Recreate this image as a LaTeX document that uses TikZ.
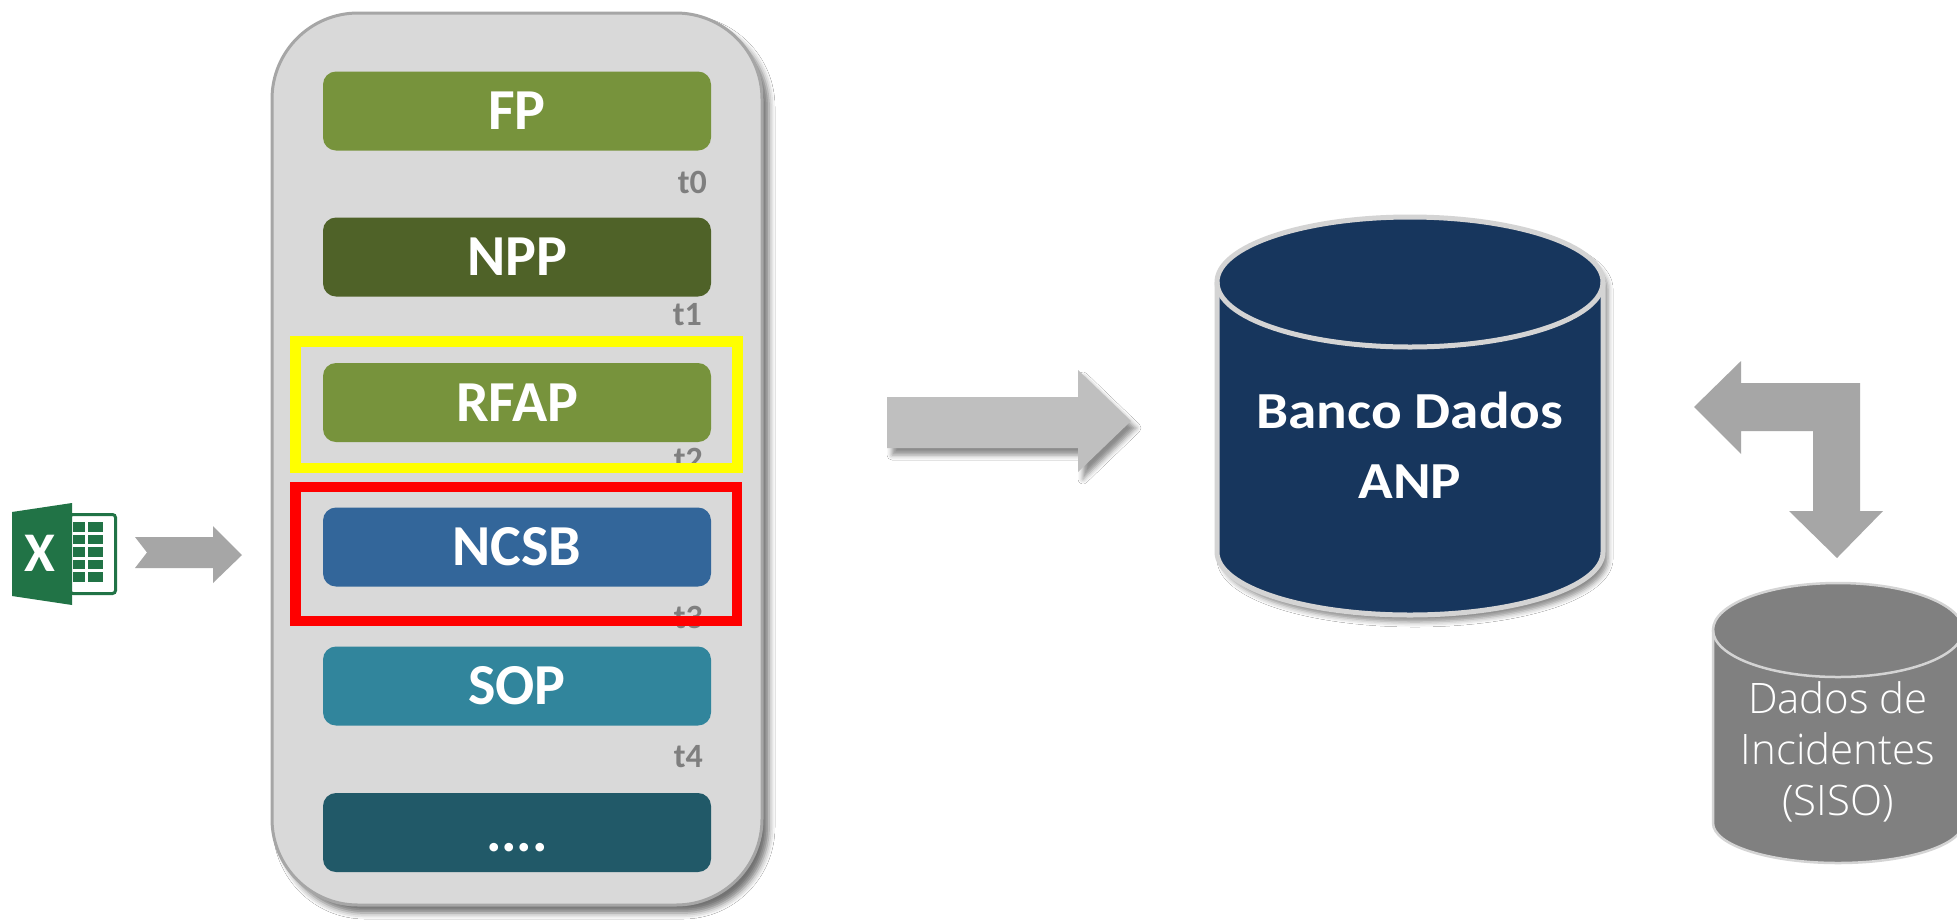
\documentclass[tikz,border=0pt]{standalone}
\usepackage{fontspec}
\setmainfont{Carlito}
\newfontfamily\lightfont{Open Sans Light}
\newfontfamily\widefont{Carlito}[FakeStretch=1.1]
\usetikzlibrary{shadows.blur}
\definecolor{panelgray}{HTML}{D9D9D9}
\definecolor{panelborder}{HTML}{A6A6A6}
\definecolor{fpgreen}{HTML}{77933C}
\definecolor{nppgreen}{HTML}{4F6228}
\definecolor{ncsbblue}{HTML}{33669A}
\definecolor{sopteal}{HTML}{31859C}
\definecolor{dotsteal}{HTML}{215968}
\definecolor{tgray}{HTML}{7F7F7F}
\definecolor{hlyellow}{HTML}{FFFF00}
\definecolor{hlred}{HTML}{FF0000}
\definecolor{bigarrowgray}{HTML}{BFBFBF}
\definecolor{arrowgray}{HTML}{A6A6A6}
\definecolor{dbblue}{HTML}{17365D}
\definecolor{cylrim}{HTML}{D4D4D4}
\definecolor{siscgray}{HTML}{808080}
\definecolor{xlgreen}{HTML}{217346}
\begin{document}
\begin{tikzpicture}[x=1pt,y=-1pt,
  panelbox/.style={draw=panelborder, line width=3pt, fill=panelgray,
    rounded corners=86pt, minimum width=490pt, minimum height=892pt,
    inner sep=0pt,
    blur shadow={shadow xshift=7pt, shadow yshift=-8pt, shadow blur radius=6pt, shadow opacity=55}},
  barbox/.style={rounded corners=13pt, minimum width=388pt, minimum height=79pt,
    inner sep=0pt, text=white, font=\bfseries\fontsize{58}{60}\selectfont,
    text height=37pt, text depth=0pt},
  tlabel/.style={text=tgray, font=\bfseries\fontsize{34}{36}\selectfont,
    anchor=east, inner sep=0pt},
  hlframe/.style={line width=10.5pt},
  softshadow/.style={blur shadow={shadow xshift=5pt, shadow yshift=-7pt, shadow blur radius=5pt, shadow opacity=45}},
  dbtext/.style={text=white, align=center, font=\widefont\bfseries\fontsize{52}{70}\selectfont, inner sep=0pt},
  sistext/.style={text=white, align=center, font=\lightfont\fontsize{42}{51}\selectfont, inner sep=0pt}
]
\useasboundingbox (0,0) rectangle (1957,922);
\fill[white] (0,0) rectangle (1957,922);

% Excel icon
\draw[xlgreen, line width=3pt, fill=white, rounded corners=3pt] (70,514.5) rectangle (115.5,593.5);
\foreach \k in {0,...,4}{
  \fill[xlgreen] (73,{522+\k*12.6}) rectangle (85,{531.5+\k*12.6});
  \fill[xlgreen] (88,{522+\k*12.6}) rectangle (103,{531.5+\k*12.6});
}
\fill[xlgreen] (12,512) -- (72,503) -- (72,605) -- (12,596) -- cycle;
\node[text=white, font=\bfseries\fontsize{56}{56}\selectfont, inner sep=0pt] (xl) at (40,553) {X};

% small arrow
\fill[arrowgray] (135,537) -- (213,537) -- (213,526) -- (242,555) -- (213,583) -- (213,568) -- (135,568) -- (147,552.5) -- cycle;

% panel
\node[panelbox] (panel) at (517,459) {};

% bars
\node[barbox, fill=fpgreen] (fp) at (517,111) {FP};
\node[barbox, fill=nppgreen] (npp) at (517,257) {NPP};
\node[barbox, fill=fpgreen] (rfap) at (517,402.5) {RFAP};
\node[barbox, fill=ncsbblue] (ncsb) at (517,547) {NCSB};
\node[barbox, fill=sopteal] (sop) at (517,686) {SOP};
\node[barbox, fill=dotsteal] (dots) at (517,832.5) {....};

% time labels
\node[tlabel] (t0) at (707,182) {t0};
\node[tlabel] (t1) at (702,315) {t1};
\node[tlabel] (t2) at (703,459) {t2};
\node[tlabel] (t3) at (703,617) {t3};
\node[tlabel] (t4) at (703,757) {t4};

% highlight frames
\draw[hlframe, hlyellow] (295.5,341.5) rectangle (737.5,468);
\draw[hlframe, hlred] (295.5,487) rectangle (737,621);

% big arrow
\fill[bigarrowgray, softshadow] (887,397) -- (1078,397) -- (1078,370) -- (1131,421) -- (1078,472) -- (1078,448) -- (887,448) -- cycle;

% big database cylinder
\path[fill=dbblue, draw=cylrim, line width=5pt, softshadow]
  (1217,282) -- (1217,552) arc[start angle=180, end angle=360, x radius=193pt, y radius=63pt]
  -- (1603,282) arc[start angle=0, end angle=180, x radius=193pt, y radius=65pt] -- cycle;
\draw[cylrim, line width=5pt] (1217,282) arc[start angle=180, end angle=360, x radius=193pt, y radius=65pt];
\node[dbtext] (anp) at (1410,445) {Banco Dados\\ANP};

% bent double arrow
\fill[arrowgray] (1694,407) -- (1741,361) -- (1741,383) -- (1860,383) -- (1860,511) -- (1883,511)
  -- (1837,558) -- (1789,511) -- (1813,511) -- (1813,431) -- (1741,431) -- (1741,454) -- cycle;

% small cylinder
\path[fill=siscgray, draw=cylrim, line width=2.5pt]
  (1713,630) -- (1713,823) arc[start angle=180, end angle=360, x radius=125pt, y radius=40pt]
  -- (1963,630) arc[start angle=0, end angle=180, x radius=125pt, y radius=47pt] -- cycle;
\draw[cylrim, line width=2.5pt] (1713,630) arc[start angle=180, end angle=360, x radius=125pt, y radius=47pt];
\node[sistext] (siso) at (1838,752) {Dados de\\Incidentes\\(SISO)};
\end{tikzpicture}
\end{document}
